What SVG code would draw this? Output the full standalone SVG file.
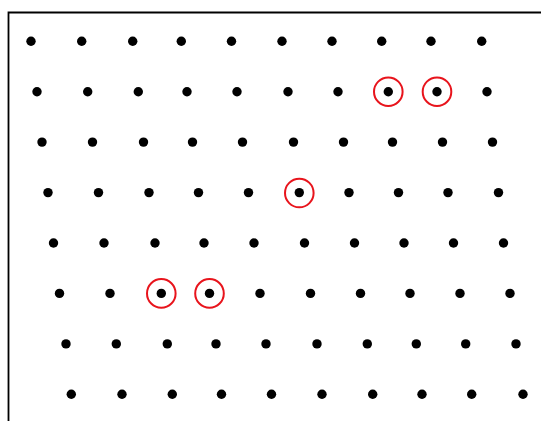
<svg xmlns="http://www.w3.org/2000/svg" width="541" height="421" viewBox="0 0 541 421">
<style>
.frame{fill:none;stroke:#000;stroke-width:1.8}
.dot{fill:#000}
.ring{fill:none;stroke:#e8141c;stroke-width:2}
</style>
<rect width="541" height="421" fill="#fff"/>
<path class="frame" d="M8.5,421 V12.5 H541"/>
<g id="dots">
<g id="row0"><circle class="dot" r="4.7" cx="31" cy="41.3"/><circle class="dot" r="4.7" cx="81.7" cy="41.3"/><circle class="dot" r="4.7" cx="132.7" cy="41.3"/><circle class="dot" r="4.7" cx="181.3" cy="41.3"/><circle class="dot" r="4.7" cx="231.5" cy="41.3"/><circle class="dot" r="4.7" cx="282" cy="41.3"/><circle class="dot" r="4.7" cx="332" cy="41.3"/><circle class="dot" r="4.7" cx="381.7" cy="41.3"/><circle class="dot" r="4.7" cx="431" cy="41.3"/><circle class="dot" r="4.7" cx="481.7" cy="41.3"/></g>
<g id="row1"><circle class="dot" r="4.7" cx="37" cy="91.7"/><circle class="dot" r="4.7" cx="87.7" cy="91.7"/><circle class="dot" r="4.7" cx="138.3" cy="91.7"/><circle class="dot" r="4.7" cx="187" cy="91.7"/><circle class="dot" r="4.7" cx="237" cy="91.7"/><circle class="dot" r="4.7" cx="288" cy="91.7"/><circle class="dot" r="4.7" cx="338" cy="91.7"/><circle class="dot" r="4.7" cx="388.3" cy="91.7"/><circle class="dot" r="4.7" cx="437" cy="91.7"/><circle class="dot" r="4.7" cx="487" cy="91.7"/></g>
<g id="row2"><circle class="dot" r="4.7" cx="42" cy="142.1"/><circle class="dot" r="4.7" cx="92.5" cy="142.1"/><circle class="dot" r="4.7" cx="143.5" cy="142.1"/><circle class="dot" r="4.7" cx="192.5" cy="142.1"/><circle class="dot" r="4.7" cx="242.5" cy="142.1"/><circle class="dot" r="4.7" cx="293.5" cy="142.1"/><circle class="dot" r="4.7" cx="343.5" cy="142.1"/><circle class="dot" r="4.7" cx="392.5" cy="142.1"/><circle class="dot" r="4.7" cx="442.5" cy="142.1"/><circle class="dot" r="4.7" cx="492.5" cy="142.1"/></g>
<g id="row3"><circle class="dot" r="4.7" cx="48" cy="192.6"/><circle class="dot" r="4.7" cx="98.5" cy="192.6"/><circle class="dot" r="4.7" cx="149" cy="192.6"/><circle class="dot" r="4.7" cx="198.5" cy="192.6"/><circle class="dot" r="4.7" cx="248.5" cy="192.6"/><circle class="dot" r="4.7" cx="299.3" cy="192.6"/><circle class="dot" r="4.7" cx="349" cy="192.6"/><circle class="dot" r="4.7" cx="398.5" cy="192.6"/><circle class="dot" r="4.7" cx="448" cy="192.6"/><circle class="dot" r="4.7" cx="498.5" cy="192.6"/></g>
<g id="row4"><circle class="dot" r="4.7" cx="53.5" cy="243"/><circle class="dot" r="4.7" cx="104" cy="243"/><circle class="dot" r="4.7" cx="155" cy="243"/><circle class="dot" r="4.7" cx="204" cy="243"/><circle class="dot" r="4.7" cx="254" cy="243"/><circle class="dot" r="4.7" cx="304.5" cy="243"/><circle class="dot" r="4.7" cx="354.5" cy="243"/><circle class="dot" r="4.7" cx="404" cy="243"/><circle class="dot" r="4.7" cx="453.5" cy="243"/><circle class="dot" r="4.7" cx="503.5" cy="243"/></g>
<g id="row5"><circle class="dot" r="4.7" cx="59.5" cy="293.4"/><circle class="dot" r="4.7" cx="110" cy="293.4"/><circle class="dot" r="4.7" cx="161.3" cy="293.4"/><circle class="dot" r="4.7" cx="209.5" cy="293.4"/><circle class="dot" r="4.7" cx="260" cy="293.4"/><circle class="dot" r="4.7" cx="310.5" cy="293.4"/><circle class="dot" r="4.7" cx="360.5" cy="293.4"/><circle class="dot" r="4.7" cx="410" cy="293.4"/><circle class="dot" r="4.7" cx="460" cy="293.4"/><circle class="dot" r="4.7" cx="510" cy="293.4"/></g>
<g id="row6"><circle class="dot" r="4.7" cx="66" cy="343.9"/><circle class="dot" r="4.7" cx="116.3" cy="343.9"/><circle class="dot" r="4.7" cx="167.3" cy="343.9"/><circle class="dot" r="4.7" cx="216" cy="343.9"/><circle class="dot" r="4.7" cx="266" cy="343.9"/><circle class="dot" r="4.7" cx="317" cy="343.9"/><circle class="dot" r="4.7" cx="367.3" cy="343.9"/><circle class="dot" r="4.7" cx="416.3" cy="343.9"/><circle class="dot" r="4.7" cx="465.7" cy="343.9"/><circle class="dot" r="4.7" cx="516" cy="343.9"/></g>
<g id="row7"><circle class="dot" r="4.7" cx="71.3" cy="394.3"/><circle class="dot" r="4.7" cx="122" cy="394.3"/><circle class="dot" r="4.7" cx="172.3" cy="394.3"/><circle class="dot" r="4.7" cx="221.5" cy="394.3"/><circle class="dot" r="4.7" cx="271.5" cy="394.3"/><circle class="dot" r="4.7" cx="322" cy="394.3"/><circle class="dot" r="4.7" cx="372.7" cy="394.3"/><circle class="dot" r="4.7" cx="422" cy="394.3"/><circle class="dot" r="4.7" cx="471.7" cy="394.3"/><circle class="dot" r="4.7" cx="523" cy="394.3"/></g>
</g>
<g id="rings">
<circle class="ring" r="14.3" cx="388.3" cy="91.7"/>
<circle class="ring" r="14.3" cx="437" cy="91.7"/>
<circle class="ring" r="14.3" cx="299.3" cy="193"/>
<circle class="ring" r="14.3" cx="161.3" cy="293.4"/>
<circle class="ring" r="14.3" cx="209.5" cy="293.4"/>
</g>
</svg>
